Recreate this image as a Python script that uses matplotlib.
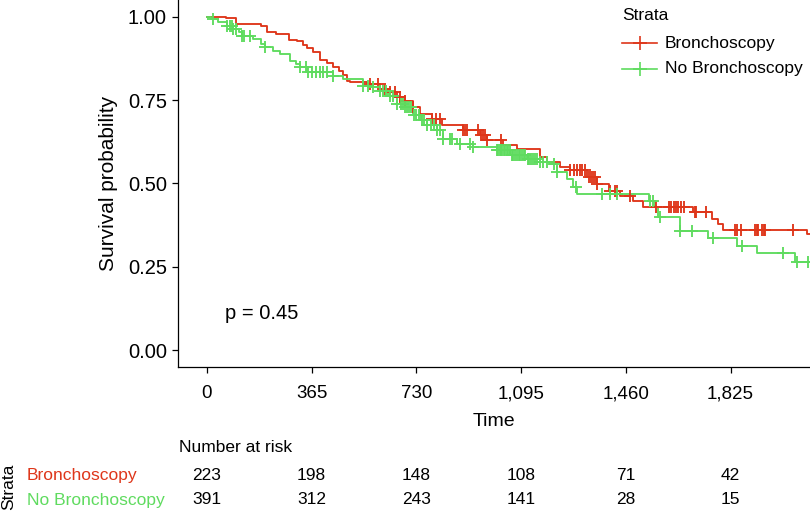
import numpy as np
import matplotlib
matplotlib.use("Agg")
import matplotlib.pyplot as plt

plt.rcParams['font.family'] = ['Liberation Sans', 'DejaVu Sans']

################################################################################
### DATA
################################################################################

# Bronchoscopy: step times and survival after each step
times_r = [0, 65, 100, 190, 210, 240, 285, 315, 335, 350, 370, 395, 420, 440, 460,
           475, 487, 500, 557, 603, 630, 661, 690, 719, 743, 783, 818, 893, 952,
           975, 1033, 1080, 1161, 1184, 1231, 1266, 1324, 1359, 1400, 1440, 1486,
           1521, 1695, 1760, 1780, 1800, 2090]
surv_r = [1.0, 0.995, 0.978, 0.973, 0.955, 0.948, 0.930, 0.928, 0.915, 0.905, 0.895,
          0.870, 0.860, 0.848, 0.838, 0.825, 0.808, 0.803, 0.798, 0.783, 0.773, 0.758,
          0.748, 0.728, 0.709, 0.694, 0.674, 0.659, 0.644, 0.629, 0.614, 0.604, 0.579,
          0.564, 0.549, 0.539, 0.519, 0.499, 0.479, 0.464, 0.449, 0.429, 0.414, 0.395,
          0.380, 0.361, 0.349]
cens_r = [568, 597, 620, 638, 655, 673, 690, 719, 783, 800, 812, 893, 900, 905, 945,
          955, 963, 970, 975, 1025, 1266, 1280, 1289, 1300, 1307, 1318, 1330, 1340,
          1345, 1352, 1359, 1405, 1424, 1430, 1475, 1564, 1611, 1618, 1627, 1635,
          1642, 1652, 1663, 1700, 1705, 1739, 1840, 1848, 1863, 1910, 1916, 1922,
          1935, 1940, 1946, 2043]
end_r = 2110

# No Bronchoscopy
times_g = [0, 15, 40, 69, 92, 110, 121, 161, 190, 202, 230, 255, 289, 310, 324, 348,
           440, 475, 545, 580, 603, 630, 661, 690, 719, 745, 766, 801, 824, 871, 928,
           1010, 1057, 1115, 1161, 1196, 1219, 1254, 1277, 1289, 1540, 1560, 1573,
           1649, 1747, 1847, 1917, 2050]
surv_g = [1.0, 0.993, 0.985, 0.973, 0.963, 0.953, 0.943, 0.933, 0.918, 0.908, 0.898,
          0.888, 0.868, 0.858, 0.848, 0.833, 0.823, 0.813, 0.793, 0.788, 0.778, 0.763,
          0.738, 0.728, 0.705, 0.690, 0.674, 0.659, 0.634, 0.619, 0.609, 0.599, 0.584,
          0.574, 0.564, 0.559, 0.534, 0.514, 0.489, 0.469, 0.449, 0.430, 0.399, 0.359,
          0.337, 0.314, 0.291, 0.264]
cens_g = [21, 69, 81, 88, 92, 100, 121, 130, 150, 202, 324, 345, 353, 365, 380, 394,
          405, 417, 440, 545, 560, 580, 603, 615, 625, 638, 650, 661, 675, 683, 690,
          698, 705, 712, 722, 730, 738, 748, 755, 766, 780, 790, 801, 812, 824, 847,
          855, 882, 917, 928, 1010, 1015, 1020, 1025, 1030, 1035, 1040, 1045, 1050,
          1055, 1062, 1068, 1075, 1080, 1086, 1092, 1098, 1104, 1110, 1118, 1124,
          1130, 1136, 1142, 1150, 1161, 1173, 1185, 1208, 1219, 1285, 1376, 1405,
          1428, 1544, 1556, 1579, 1649, 1690, 1765, 1864, 2009, 2055, 2096]
end_g = 2110

groups = ['Bronchoscopy', 'No Bronchoscopy']
colors = ['#DE361A', '#5FDB5F']
xticks = [0, 365, 730, 1095, 1460, 1825]
xtick_labels = ['0', '365', '730', '1,095', '1,460', '1,825']
yticks = [0.0, 0.25, 0.5, 0.75, 1.0]
ytick_labels = ['0.00', '0.25', '0.50', '0.75', '1.00']
risk_r = [223, 198, 148, 108, 71, 42]
risk_g = [391, 312, 243, 141, 28, 15]
pval_text = 'p = 0.45'

################################################################################
### PLOT
################################################################################

def surv_at(times, surv, t):
    idx = np.searchsorted(times, t, side='right') - 1
    return np.asarray(surv)[idx]

def draw_curve(ax, times, surv, cens, end, color):
    tt = list(times) + [end]
    ss = list(surv) + [surv[-1]]
    ax.step(tt, ss, where='post', color=color, lw=1.35, zorder=3)
    ax.plot(cens, surv_at(times, surv, np.array(cens)), ls='none', marker='+',
            ms=9, mew=1.35, color=color, zorder=4)

W, H = 810, 511
fig = plt.figure(figsize=(W / 100, H / 100), dpi=100)
ax = fig.add_axes([178 / W, 1 - 367 / H, (W - 178) / W, 367 / H])

draw_curve(ax, times_r, surv_r, cens_r, end_r, colors[0])
draw_curve(ax, times_g, surv_g, cens_g, end_g, colors[1])

ax.set_xlim(-101, 2102)
ax.set_ylim(-0.05, 1.05)
ax.set_xticks(xticks)
ax.set_xticklabels(xtick_labels)
ax.set_yticks(yticks)
ax.set_yticklabels(ytick_labels)
for s in ['top', 'right']:
    ax.spines[s].set_visible(False)
for s in ['left', 'bottom']:
    ax.spines[s].set_linewidth(0.9)
ax.tick_params(axis='both', length=4, width=0.9, colors='black')
ax.tick_params(axis='x', pad=9, labelsize=13.5)
ax.tick_params(axis='y', pad=4, labelsize=14.5)
ax.set_ylabel('Survival probability', fontsize=15, labelpad=7)

ax.text(63, 0.11, pval_text, fontsize=14.5, ha='left', va='center')

fig.text(494 / W, 1 - 422 / H, 'Time', fontsize=14, ha='center', va='center')

# legend
fig.text(622 / W, 1 - 16 / H, 'Strata', fontsize=12.5, ha='left', va='center')
for i, (g, c) in enumerate(zip(groups, colors)):
    yy = 1 - (43 + 26 * i) / H
    fig.add_artist(matplotlib.lines.Line2D([622 / W, 657 / W], [yy, yy], color=c, lw=1.2))
    fig.add_artist(matplotlib.lines.Line2D([640 / W], [yy], color=c, marker='+', ms=10, mew=1.2))
    fig.text(665 / W, yy, g, fontsize=12.5, ha='left', va='center')

# risk table
rax = fig.add_axes([178 / W, 0, (W - 178) / W, 1 - 367 / H], sharex=ax)
rax.axis('off')
fig.text(179 / W, 1 - 448 / H, 'Number at risk', fontsize=12.5, ha='left', va='center')
for i, (row, c, g) in enumerate(zip([risk_r, risk_g], colors, groups)):
    yy = 1 - (475 + 25 * i) / H
    for t, n in zip(xticks, row):
        rax.text(t, yy, str(n), fontsize=12.5, ha='center', va='center',
                 transform=matplotlib.transforms.blended_transform_factory(rax.transData, fig.transFigure))
    fig.text(27 / W, yy, g, fontsize=12.5, color=c, ha='left', va='center')
fig.text(9 / W, 1 - 487 / H, 'Strata', fontsize=12.5, rotation=90, ha='center', va='center')

plt.savefig('out.png', dpi=100)
